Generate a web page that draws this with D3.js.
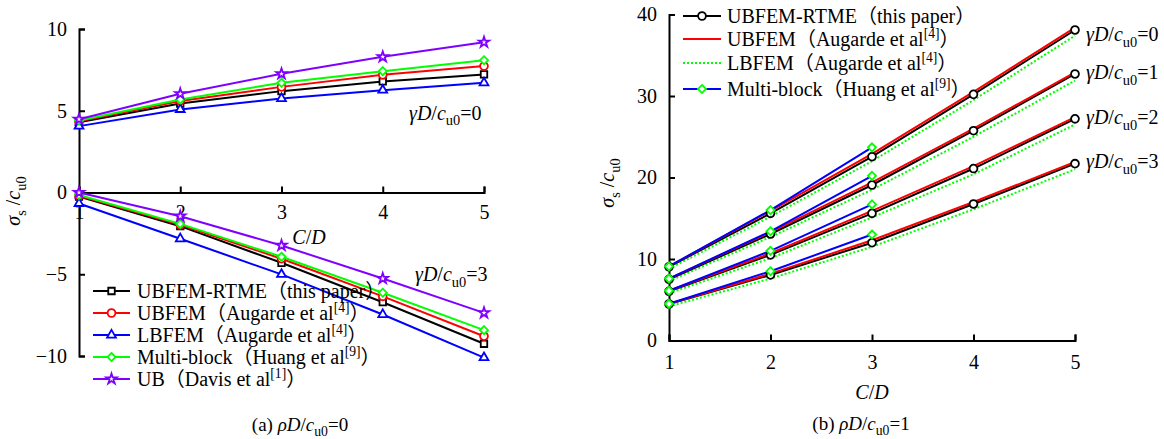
<!DOCTYPE html>
<html>
<head>
<meta charset="utf-8">
<script src="https://cdn.jsdelivr.net/npm/d3@7"></script>
<style>
  body { margin: 0; background: #fff; }
  svg text { font-family: "Liberation Serif", "DejaVu Serif", "Noto Sans CJK SC", serif; fill: #000; }
</style>
</head>
<body>
<svg id="chart" width="1164" height="439"></svg>
<script>
// C/D values shared by both panels
const ratio = [1, 2, 3, 4, 5];

// (a) rho D / cu0 = 0, upper group gamma D / cu0 = 0
const leftRTME0  = [4.30, 5.44, 6.20, 6.79, 7.22];
const leftUBFEM0 = [4.35, 5.60, 6.46, 7.20, 7.73];
const leftLBFEM0 = [4.06, 5.08, 5.75, 6.26, 6.71];
const leftMulti0 = [4.40, 5.69, 6.71, 7.42, 8.09];
const leftUB0    = [4.48, 6.04, 7.26, 8.30, 9.19];
// lower group gamma D / cu0 = 3
const leftRTME3  = [-0.25, -2.06, -4.30, -6.71, -9.25];
const leftUBFEM3 = [-0.20, -1.98, -4.05, -6.35, -8.79];
const leftLBFEM3 = [-0.67, -2.83, -5.01, -7.46, -10.10];
const leftMulti3 = [-0.15, -1.92, -3.93, -6.13, -8.42];
const leftUB3    = [0.00, -1.45, -3.24, -5.26, -7.36];
const leftYTicks = [-10, -5, 0, 5, 10];

// (b) rho D / cu0 = 1, one row per gamma D / cu0 = 0,1,2,3
const rightRTME = [
  [9.05, 15.6, 22.55, 30.2, 38.1],
  [7.5, 13.07, 19.08, 25.74, 32.7],
  [6.03, 10.5, 15.6, 21.1, 27.2],
  [4.48, 8.04, 12.0, 16.75, 21.7]
];
const rightUBFEM = [
  [9.1, 15.9, 22.9, 30.5, 38.4],
  [7.6, 13.3, 19.4, 26.0, 32.9],
  [6.1, 10.7, 15.9, 21.4, 27.4],
  [4.5, 8.2, 12.3, 17.0, 21.9]
];
const rightLBFEM = [
  [8.8, 15.2, 22.0, 29.5, 37.4],
  [7.3, 12.7, 18.5, 25.0, 31.9],
  [5.8, 10.1, 15.1, 20.4, 26.5],
  [4.2, 7.6, 11.5, 16.1, 21.0]
];
const rightMulti = [
  [9.1, 16.0, 23.7],
  [7.6, 13.4, 20.2],
  [6.1, 11.0, 16.7],
  [4.5, 8.5, 13.0]
];
const rightYTicks = [0, 10, 20, 30, 40];
const gammaLabels = ["=0", "=1", "=2", "=3"];

const svg = d3.select("#chart");
const FS = 20;
const FONT = '"Liberation Serif", "DejaVu Serif", "Noto Sans CJK SC", serif';
const diamond = d3.symbolDiamond2 || d3.symbolDiamond;

// text made of pieces: italic, subscript, superscript
function richText(g, x, y, parts, size, anchor) {
  const t = g.append("text").attr("x", x).attr("y", y)
    .attr("font-family", FONT)
    .attr("font-size", size).attr("text-anchor", anchor || "start");
  let shift = 0;
  parts.forEach(p => {
    let target = 0, fs = size;
    if (p.sub) { target = size * 0.28; fs = size * 0.72; }
    if (p.sup) { target = -size * 0.38; fs = size * 0.68; }
    const ts = t.append("tspan").text(p.t).attr("font-size", fs);
    if (target - shift !== 0) ts.attr("dy", target - shift);
    if (p.i) ts.attr("font-style", "italic");
    shift = target;
  });
  return t;
}

const sigmaLabel = [{t: "σ", i: 1}, {t: "s", sub: 1}, {t: " /"}, {t: "c", i: 1}, {t: "u0", sub: 1}];
const cdLabel = [{t: "C", i: 1}, {t: "/"}, {t: "D", i: 1}];
const gammaParts = v => [{t: "γD", i: 1}, {t: "/"}, {t: "c", i: 1}, {t: "u0", sub: 1}, {t: v}];

function drawAxes(g, x, y, yTicks, xPad) {
  const ax = g.append("g").attr("transform", `translate(0,${y(0)})`)
    .call(d3.axisBottom(x).tickValues(ratio).tickSizeInner(-6).tickSizeOuter(-6)
      .tickPadding(xPad).tickFormat(d3.format("d")));
  const ay = g.append("g").attr("transform", `translate(${x(1)},0)`)
    .call(d3.axisLeft(y).tickValues(yTicks).tickSizeInner(-6).tickSizeOuter(-6)
      .tickPadding(12).tickFormat(d3.format("d")));
  [ax, ay].forEach(a => {
    a.attr("font-family", FONT).attr("font-size", FS);
    a.selectAll("text").attr("font-family", FONT);
    a.select(".domain").attr("stroke-width", 2);
    a.selectAll(".tick line").attr("stroke-width", 2);
  });
}

function marker(g, type, size, cx, cy, color) {
  g.append("path")
    .attr("d", d3.symbol().type(type).size(size)())
    .attr("transform", `translate(${cx},${cy})`)
    .attr("fill", "#fff").attr("stroke", color).attr("stroke-width", 1.8);
}

// ---------- panel (a) ----------
const xa = d3.scaleLinear().domain([1, 5]).range([79, 484]);
const ya = d3.scaleLinear().domain([-10, 10]).range([356, 29]);
const ga = svg.append("g");
drawAxes(ga, xa, ya, leftYTicks, 12);

const leftSeries = [
  {name: [{t: "UBFEM-RTME（this paper）"}], color: "#000", sym: d3.symbolSquare, size: 42, a: leftRTME0, b: leftRTME3},
  {name: [{t: "UBFEM（Augarde et al"}, {t: "[4]", sup: 1}, {t: "）"}], color: "#ff0000", sym: d3.symbolCircle, size: 48, a: leftUBFEM0, b: leftUBFEM3},
  {name: [{t: "LBFEM（Augarde et al"}, {t: "[4]", sup: 1}, {t: "）"}], color: "#0000ff", sym: d3.symbolTriangle, size: 34, a: leftLBFEM0, b: leftLBFEM3},
  {name: [{t: "Multi-block（Huang et al"}, {t: "[9]", sup: 1}, {t: "）"}], color: "#00ff00", sym: diamond, size: 42, a: leftMulti0, b: leftMulti3},
  {name: [{t: "UB（Davis et al"}, {t: "[1]", sup: 1}, {t: "）"}], color: "#8000ff", sym: d3.symbolStar, size: 34, a: leftUB0, b: leftUB3}
];

const lineA = d3.line().x((d, i) => xa(ratio[i])).y(d => ya(d));
leftSeries.forEach(s => {
  [s.a, s.b].forEach(vals => {
    ga.append("path").datum(vals).attr("d", lineA)
      .attr("fill", "none").attr("stroke", s.color).attr("stroke-width", 2);
    vals.forEach((v, i) => marker(ga, s.sym, s.size, xa(ratio[i]), ya(v), s.color));
  });
});

// legend (a)
leftSeries.forEach((s, i) => {
  const cy = 291 + i * 22;
  ga.append("line").attr("x1", 93).attr("x2", 130).attr("y1", cy).attr("y2", cy)
    .attr("stroke", s.color).attr("stroke-width", 2);
  marker(ga, s.sym, s.size, 111.5, cy, s.color);
  richText(ga, 137, cy + 6.5, s.name, FS);
});

richText(ga, 409, 119.5, gammaParts("=0"), FS);
richText(ga, 415, 281, gammaParts("=3"), FS);
richText(ga, 309, 244, cdLabel, FS, "middle");
richText(ga.append("g").attr("transform", "translate(20,201) rotate(-90)"), 0, 0, sigmaLabel, FS, "middle");
richText(ga, 300, 431, [{t: "(a) "}, {t: "ρD", i: 1}, {t: "/"}, {t: "c", i: 1}, {t: "u0", sub: 1}, {t: "=0"}], 19, "middle");

// ---------- panel (b) ----------
const xb = d3.scaleLinear().domain([1, 5]).range([669, 1075]);
const yb = d3.scaleLinear().domain([0, 40]).range([340.5, 14.5]);
const gb = svg.append("g");
drawAxes(gb, xb, yb, rightYTicks, 14);

const lineB = d3.line().x((d, i) => xb(ratio[i])).y(d => yb(d));
rightLBFEM.forEach(vals => gb.append("path").datum(vals).attr("d", lineB)
  .attr("fill", "none").attr("stroke", "#00ff00").attr("stroke-width", 2).attr("stroke-dasharray", "2,2"));
rightRTME.forEach(vals => gb.append("path").datum(vals).attr("d", lineB)
  .attr("fill", "none").attr("stroke", "#000").attr("stroke-width", 2));
rightUBFEM.forEach(vals => gb.append("path").datum(vals).attr("d", lineB)
  .attr("fill", "none").attr("stroke", "#ff0000").attr("stroke-width", 2));
rightMulti.forEach(vals => gb.append("path").datum(vals).attr("d", lineB)
  .attr("fill", "none").attr("stroke", "#0000ff").attr("stroke-width", 2));
rightRTME.forEach(vals => vals.forEach((v, i) =>
  marker(gb, d3.symbolCircle, 48, xb(ratio[i]), yb(v), "#000")));
rightMulti.forEach(vals => vals.forEach((v, i) =>
  marker(gb, diamond, 42, xb(ratio[i]), yb(v), "#00ff00")));

// legend (b)
const rightLegend = [
  {name: [{t: "UBFEM-RTME（this paper）"}], color: "#000", dash: null, sym: d3.symbolCircle, mcol: "#000", size: 48},
  {name: [{t: "UBFEM（Augarde et al"}, {t: "[4]", sup: 1}, {t: "）"}], color: "#ff0000", dash: null},
  {name: [{t: "LBFEM（Augarde et al"}, {t: "[4]", sup: 1}, {t: "）"}], color: "#00ff00", dash: "2,2"},
  {name: [{t: "Multi-block（Huang et al"}, {t: "[9]", sup: 1}, {t: "）"}], color: "#0000ff", dash: null, sym: diamond, mcol: "#00ff00", size: 42}
];
const legendRowsB = [16, 39, 63, 89];
rightLegend.forEach((s, i) => {
  const cy = legendRowsB[i];
  gb.append("line").attr("x1", 683).attr("x2", 721).attr("y1", cy).attr("y2", cy)
    .attr("stroke", s.color).attr("stroke-width", 2).attr("stroke-dasharray", s.dash);
  if (s.sym) marker(gb, s.sym, s.size, 702, cy, s.mcol);
  richText(gb, 727, cy + 6.5, s.name, FS);
});

const gammaRowsB = [41, 79, 124, 168];
gammaLabels.forEach((v, i) => richText(gb, 1086, gammaRowsB[i], gammaParts(v), FS));
richText(gb, 872, 399, cdLabel, FS, "middle");
richText(gb.append("g").attr("transform", "translate(614,183) rotate(-90)"), 0, 0, sigmaLabel, FS, "middle");
richText(gb, 861, 430, [{t: "(b) "}, {t: "ρD", i: 1}, {t: "/"}, {t: "c", i: 1}, {t: "u0", sub: 1}, {t: "=1"}], 19, "middle");
</script>
</body>
</html>
